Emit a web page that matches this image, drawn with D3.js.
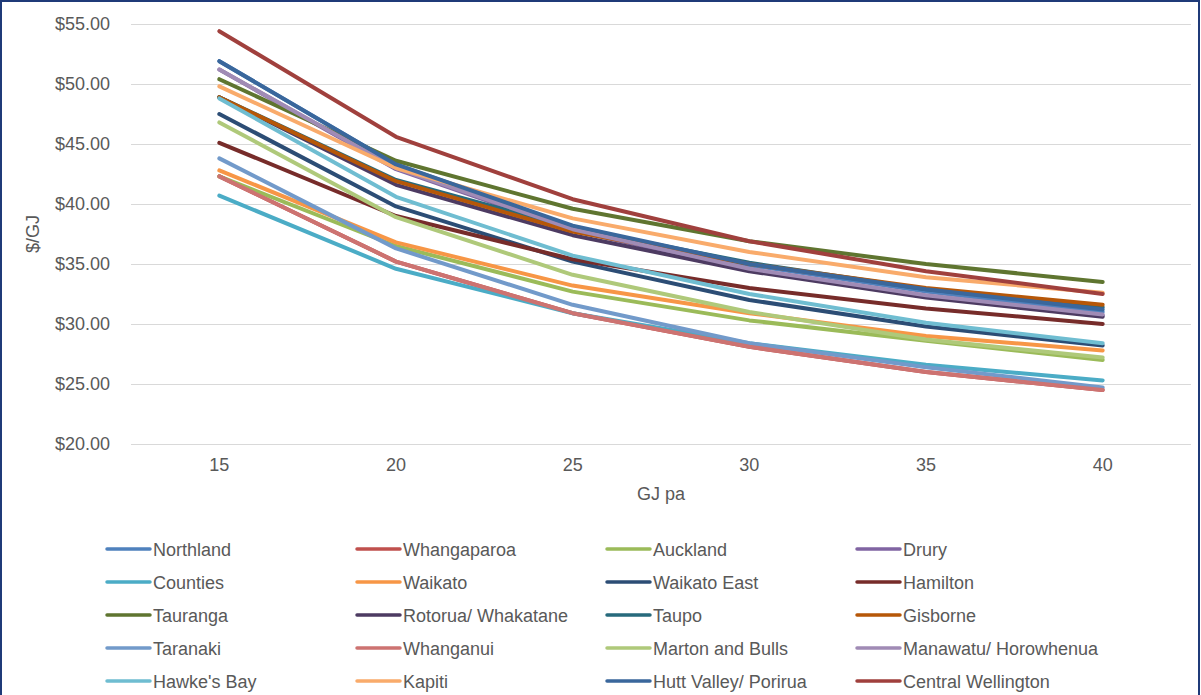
<!DOCTYPE html>
<html>
<head>
<meta charset="utf-8">
<script src="https://cdn.jsdelivr.net/npm/d3@7"></script>
<style>
  html, body { margin: 0; padding: 0; background: #fff; }
  svg { display: block; font-family: "Liberation Sans", Arial, sans-serif; }
</style>
</head>
<body>
<svg id="chart" width="1201" height="695"></svg>
<script>
// ---- data ----
const categories = ["15", "20", "25", "30", "35", "40"];
const yTicks = [20, 25, 30, 35, 40, 45, 50, 55];

const seriesNames = [
  "Northland", "Whangaparoa", "Auckland", "Drury",
  "Counties", "Waikato", "Waikato East", "Hamilton",
  "Tauranga", "Rotorua/ Whakatane", "Taupo", "Gisborne",
  "Taranaki", "Whanganui", "Marton and Bulls", "Manawatu/ Horowhenua",
  "Hawke's Bay", "Kapiti", "Hutt Valley/ Porirua", "Central Wellington"
];

const northland   = [51.9, 43.3, 38.1, 34.9, 32.7, 31.0];
const whangaparoa = [42.3, 35.2, 30.9, 28.1, 26.0, 24.5];
const auckland    = [42.3, 36.5, 32.7, 30.3, 28.6, 27.0];
const drury       = [51.2, 42.9, 37.8, 34.5, 32.3, 30.7];
const counties    = [40.7, 34.6, 30.9, 28.4, 26.6, 25.3];
const waikato     = [42.8, 36.8, 33.2, 30.9, 29.0, 27.8];
const waikatoEast = [47.5, 39.8, 35.2, 32.0, 29.8, 28.2];
const hamilton    = [45.1, 39.0, 35.4, 33.0, 31.3, 30.0];
const tauranga    = [50.4, 43.6, 39.6, 36.9, 35.0, 33.5];
const rotorua     = [48.9, 41.6, 37.4, 34.4, 32.2, 30.6];
const taupo       = [48.9, 42.0, 38.0, 35.1, 32.9, 31.4];
const gisborne    = [48.9, 41.9, 37.7, 35.0, 33.0, 31.6];
const taranaki    = [43.8, 36.3, 31.6, 28.4, 26.4, 24.7];
const whanganui   = [42.3, 35.2, 30.9, 28.1, 26.0, 24.5];
const marton      = [46.8, 38.9, 34.1, 31.0, 28.7, 27.2];
const manawatu    = [51.2, 43.0, 37.9, 34.6, 32.4, 30.8];
const hawkesBay   = [48.8, 40.6, 35.7, 32.5, 30.1, 28.4];
const kapiti      = [49.8, 43.0, 38.8, 36.0, 33.9, 32.6];
const huttValley  = [51.9, 43.3, 38.2, 35.0, 32.9, 31.2];
const centralWgtn = [54.4, 45.6, 40.4, 36.9, 34.4, 32.5];

const seriesValues = [
  northland, whangaparoa, auckland, drury,
  counties, waikato, waikatoEast, hamilton,
  tauranga, rotorua, taupo, gisborne,
  taranaki, whanganui, marton, manawatu,
  hawkesBay, kapiti, huttValley, centralWgtn
];

const seriesColors = [
  "#4F81BD", "#C0504D", "#9BBB59", "#8064A2",
  "#4BACC6", "#F79646", "#2C4D75", "#772C2A",
  "#5F7530", "#4D3B62", "#276A7C", "#B65708",
  "#729ACA", "#CD7371", "#AFC97A", "#A08BB5",
  "#6FBDD1", "#F9AB6B", "#3A679C", "#A0403D"
];

// ---- layout ----
const svg = d3.select("#chart");
const plotLeft = 131, plotRight = 1191, plotTop = 24, plotBottom = 444;

const x = d3.scaleBand().domain(categories).range([plotLeft, plotRight]);
const y = d3.scaleLinear().domain([20, 55]).range([plotBottom, plotTop]);
const textColor = "#595959";

// frame
svg.append("rect")
  .attr("x", 1).attr("y", 1).attr("width", 1198).attr("height", 700)
  .attr("fill", "none").attr("stroke", "#1F3A78").attr("stroke-width", 2);

// gridlines
svg.append("g")
  .selectAll("line").data(yTicks).join("line")
  .attr("x1", plotLeft).attr("x2", plotRight)
  .attr("y1", d => y(d)).attr("y2", d => y(d))
  .attr("stroke", "#D9D9D9").attr("stroke-width", 1)
  .attr("shape-rendering", "crispEdges");

// y axis labels
const yAxis = d3.axisLeft(y).tickValues(yTicks)
  .tickFormat(d => "$" + d3.format(".2f")(d)).tickSize(0).tickPadding(0);
const gy = svg.append("g").attr("transform", `translate(110,0)`).call(yAxis);
gy.select(".domain").remove();
gy.selectAll("text").attr("fill", textColor).style("font-size", "18px")
  .style("font-family", "'Liberation Sans', Arial, sans-serif");

// x axis labels
const xAxis = d3.axisBottom(x).tickSize(0).tickPadding(0);
const gx = svg.append("g").attr("transform", `translate(0,458)`).call(xAxis);
gx.select(".domain").remove();
gx.selectAll("text").attr("fill", textColor).style("font-size", "18px")
  .style("font-family", "'Liberation Sans', Arial, sans-serif");

// axis titles
svg.append("text")
  .attr("x", (plotLeft + plotRight) / 2).attr("y", 500)
  .attr("text-anchor", "middle").attr("fill", textColor)
  .style("font-size", "18px").text("GJ pa");
svg.append("text")
  .attr("transform", `translate(39,${(plotTop + plotBottom) / 2}) rotate(-90)`)
  .attr("text-anchor", "middle").attr("fill", textColor)
  .style("font-size", "18px").text("$/GJ");

// lines
const line = d3.line()
  .x((d, i) => x(categories[i]) + x.bandwidth() / 2)
  .y(d => y(d));

svg.append("g").selectAll("path")
  .data(seriesValues).join("path")
  .attr("d", d => line(d))
  .attr("fill", "none")
  .attr("stroke", (d, i) => seriesColors[i])
  .attr("stroke-width", 4)
  .attr("stroke-linejoin", "round")
  .attr("stroke-linecap", "round");

// legend
const colX = [107, 357, 607, 857];
const rowY = [549, 582, 615, 648, 681];
const lg = svg.append("g").selectAll("g")
  .data(seriesNames).join("g")
  .attr("transform", (d, i) => `translate(${colX[i % 4]},${rowY[Math.floor(i / 4)]})`);
lg.append("line")
  .attr("x1", 0).attr("x2", 43).attr("y1", 0).attr("y2", 0)
  .attr("stroke", (d, i) => seriesColors[i]).attr("stroke-width", 3.5)
  .attr("stroke-linecap", "round");
lg.append("text")
  .attr("x", 46).attr("y", 6.5)
  .attr("fill", textColor).style("font-size", "18px")
  .text(d => d);
</script>
</body>
</html>
